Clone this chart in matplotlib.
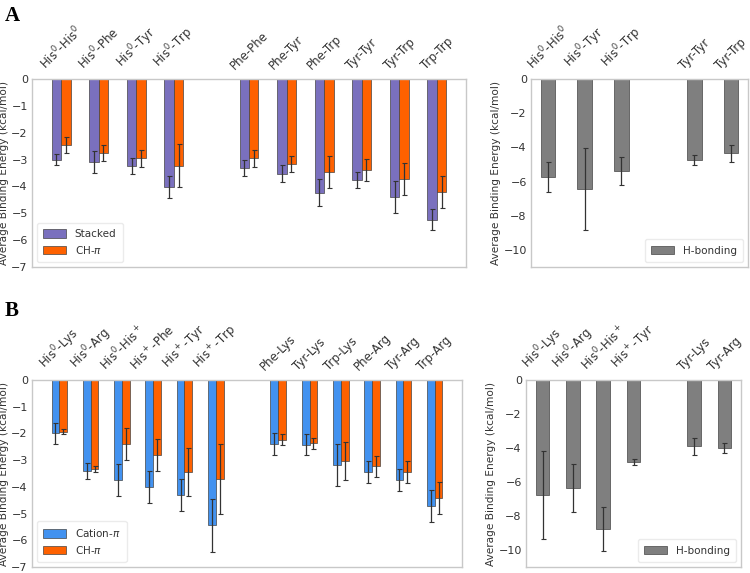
import numpy as np
import matplotlib
matplotlib.use("Agg")
import matplotlib.pyplot as plt

# panel A, left: stacked vs CH-pi
pairs_a = ["His$^0$-His$^0$", "His$^0$-Phe", "His$^0$-Tyr", "His$^0$-Trp",
           "Phe-Phe", "Phe-Tyr", "Phe-Trp", "Tyr-Tyr", "Tyr-Trp", "Trp-Trp"]
pos_a = [0, 1, 2, 3, 5, 6, 7, 8, 9, 10]
stacked = [-3.01, -3.09, -3.23, -4.02, -3.31, -3.52, -4.23, -3.76, -4.38, -5.24]
stacked_err = [0.21, 0.40, 0.30, 0.40, 0.30, 0.30, 0.50, 0.31, 0.60, 0.40]
chpi_a = [-2.45, -2.74, -2.96, -3.23, -2.96, -3.15, -3.45, -3.39, -3.71, -4.21]
chpi_a_err = [0.30, 0.30, 0.30, 0.80, 0.30, 0.30, 0.60, 0.40, 0.60, 0.60]

# panel A, right: H-bonding
pairs_ah = ["His$^0$-His$^0$", "His$^0$-Tyr", "His$^0$-Trp", "Tyr-Tyr", "Tyr-Trp"]
pos_ah = [0, 1, 2, 4, 5]
hbond_a = [-5.73, -6.41, -5.38, -4.76, -4.35]
hbond_a_err = [0.90, 2.40, 0.80, 0.30, 0.50]

# panel B, left: cation-pi vs CH-pi
pairs_b = ["His$^0$-Lys", "His$^0$-Arg", "His$^0$-His$^+$", "His$^+$-Phe", "His$^+$-Tyr",
           "His$^+$-Trp", "Phe-Lys", "Tyr-Lys", "Trp-Lys", "Phe-Arg", "Tyr-Arg", "Trp-Arg"]
pos_b = [0, 1, 2, 3, 4, 5, 7, 8, 9, 10, 11, 12]
cation = [-2.00, -3.39, -3.76, -3.99, -4.30, -5.44, -2.39, -2.42, -3.18, -3.45, -3.74, -4.71]
cation_err = [0.40, 0.30, 0.60, 0.60, 0.60, 1.00, 0.40, 0.40, 0.80, 0.40, 0.40, 0.60]
chpi_b = [-1.93, -3.33, -2.38, -2.79, -3.46, -3.70, -2.24, -2.37, -3.03, -3.23, -3.45, -4.43]
chpi_b_err = [0.10, 0.10, 0.60, 0.60, 0.90, 1.30, 0.20, 0.20, 0.70, 0.40, 0.40, 0.60]

# panel B, right: H-bonding
pairs_bh = ["His$^0$-Lys", "His$^0$-Arg", "His$^0$-His$^+$", "His$^+$-Tyr", "Tyr-Lys", "Tyr-Arg"]
pos_bh = [0, 1, 2, 3, 5, 6]
hbond_b = [-6.76, -6.35, -8.77, -4.83, -3.90, -3.98]
hbond_b_err = [2.60, 1.40, 1.30, 0.18, 0.50, 0.30]

PURPLE = "#7a70be"
ORANGE = "#fe6100"
BLUE = "#4292f0"
GRAY = "#7f7f7f"
TXT = "#333333"
YLAB = "Average Binding Energy (kcal/mol)"

plt.rcParams["font.family"] = "DejaVu Sans"
plt.rcParams["text.color"] = TXT
plt.rcParams["axes.labelcolor"] = TXT
plt.rcParams["xtick.color"] = TXT
plt.rcParams["ytick.color"] = TXT

err_kw = dict(ecolor="#333333", elinewidth=0.9, capsize=1.8, capthick=0.8)
leg_kw = dict(fontsize=7.5, handlelength=2.2, handleheight=0.9, borderpad=0.6,
              labelspacing=0.4, handletextpad=0.8, edgecolor="#e6e6e6")


def style_axes(ax, labels, pos, ylim, yticks):
    ax.set_ylim(ylim)
    ax.set_yticks(yticks)
    ax.xaxis.tick_top()
    ax.set_xticks(pos)
    ax.set_xticklabels(labels, rotation=45)
    ax.tick_params(length=0, labelsize=8, pad=3)
    ax.tick_params(axis="x", labelsize=8.5, pad=5)
    for s in ax.spines.values():
        s.set_color("#c8c8c8")
        s.set_linewidth(1.0)
    ax.set_ylabel(YLAB, fontsize=7.6, labelpad=2)


def pair_panel(ax, pos, labels, v1, e1, c1, n1, v2, e2, c2, n2):
    x = np.array(pos, dtype=float)
    w = 0.25
    ax.bar(x - w / 2, v1, w, yerr=e1, color=c1, edgecolor="#444444", linewidth=0.5,
           error_kw=err_kw, label=n1)
    ax.bar(x + w / 2, v2, w, yerr=e2, color=c2, edgecolor="#444444", linewidth=0.5,
           error_kw=err_kw, label=n2)
    style_axes(ax, labels, pos, (-7, 0), np.arange(-7, 1, 1))
    ax.legend(loc="lower left", **leg_kw)


def hbond_panel(ax, pos, labels, vals, errs, w):
    ax.bar(pos, vals, w, yerr=errs, color=GRAY, edgecolor="#444444", linewidth=0.5,
           error_kw=err_kw, label="H-bonding")
    style_axes(ax, labels, pos, (-11, 0), np.arange(-10, 1, 2))
    ax.legend(loc="lower right", **leg_kw)


fig = plt.figure(figsize=(7.5, 5.73), dpi=100)
W, H = 750.0, 573.0


def box(x0, y0, x1, y1):
    return [x0 / W, 1 - y1 / H, (x1 - x0) / W, (y1 - y0) / H]


ax1 = fig.add_axes(box(32, 79, 466, 267))
ax2 = fig.add_axes(box(531, 79, 748, 267))
ax3 = fig.add_axes(box(32, 380, 462, 567))
ax4 = fig.add_axes(box(526, 380, 741, 567))

pair_panel(ax1, pos_a, pairs_a, stacked, stacked_err, PURPLE, "Stacked",
           chpi_a, chpi_a_err, ORANGE, "CH-$\\pi$")
hbond_panel(ax2, pos_ah, pairs_ah, hbond_a, hbond_a_err, 0.4)
pair_panel(ax3, pos_b, pairs_b, cation, cation_err, BLUE, "Cation-$\\pi$",
           chpi_b, chpi_b_err, ORANGE, "CH-$\\pi$")
hbond_panel(ax4, pos_bh, pairs_bh, hbond_b, hbond_b_err, 0.45)

fig.text(5 / W, 1 - 21 / H, "A", fontsize=15, fontweight="bold",
         family="Liberation Serif", color="black")
fig.text(5 / W, 1 - 316 / H, "B", fontsize=15, fontweight="bold",
         family="Liberation Serif", color="black")

fig.savefig("out.png", dpi=100)
